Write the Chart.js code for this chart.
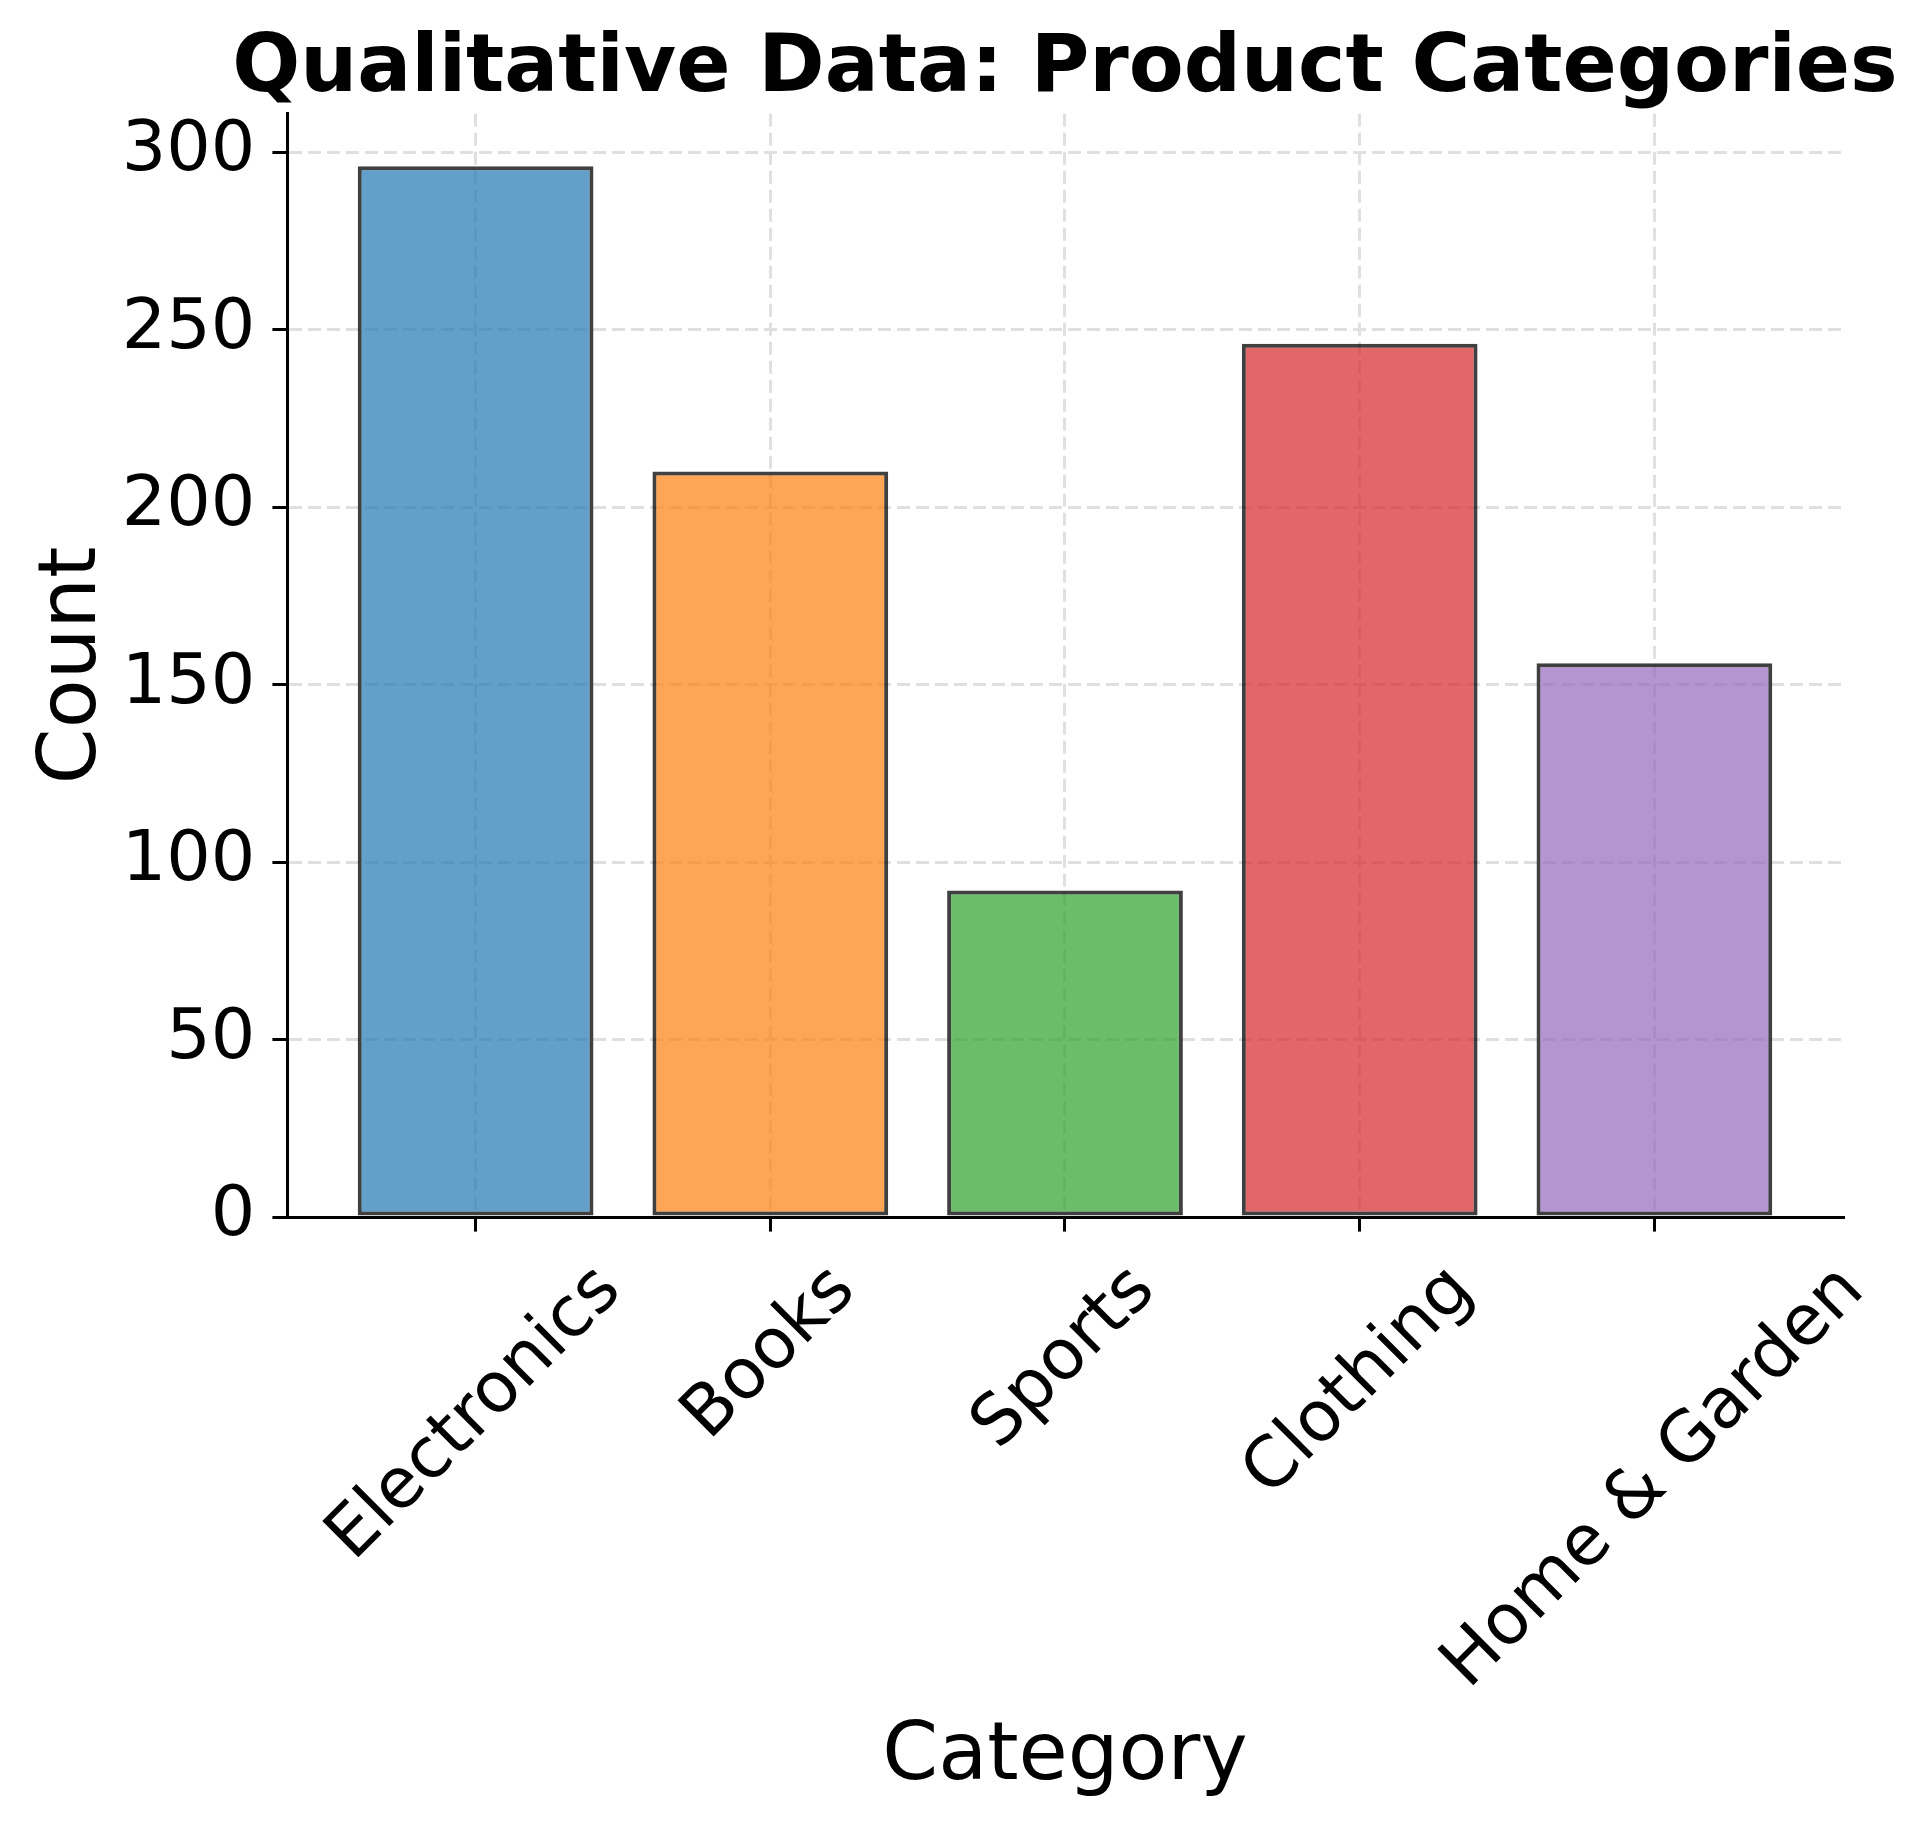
<!DOCTYPE html>
<html>
<head>
<meta charset="utf-8">
<title>Qualitative Data: Product Categories</title>
<script src="https://cdn.jsdelivr.net/npm/chart.js@4.4.1/dist/chart.umd.min.js"></script>
<style>
    html, body { margin: 0; padding: 0; background: #fff; }
    #wrap { width: 1920px; height: 1822px; }
</style>
</head>
<body>
<div id="wrap"><canvas id="chart" width="1920" height="1822"></canvas></div>
<script>
const chartTitle = 'Qualitative Data: Product Categories';
const categories = ['Electronics', 'Books', 'Sports', 'Clothing', 'Home & Garden'];
const counts = [296, 210, 92, 246, 156];
const barColors = [
    'rgba(31, 119, 180, 0.7)',
    'rgba(255, 127, 14, 0.7)',
    'rgba(44, 160, 44, 0.7)',
    'rgba(214, 39, 40, 0.7)',
    'rgba(148, 103, 189, 0.7)'
];
const yTickStep = 50;

// matplotlib style autoscale: 5% margin around the data
const xLo = -0.4, xHi = categories.length - 1 + 0.4;
const xPad = (xHi - xLo) * 0.05;
const yMax = Math.max(...counts) * 1.05;

const FONT = '"DejaVu Sans", "Liberation Sans", sans-serif';
const TICK_SIZE = 70;
const TICK_LEN = 14.6;

Chart.defaults.font.family = FONT;
Chart.defaults.color = '#000';

// title centred over the plot area (not the canvas), like matplotlib
const plotTitle = {
    id: 'plotTitle',
    afterDraw(chart) {
        const { ctx, chartArea } = chart;
        ctx.save();
        ctx.font = `bold 80px ${FONT}`;
        ctx.fillStyle = '#000';
        ctx.textAlign = 'center';
        ctx.textBaseline = 'alphabetic';
        ctx.fillText(chartTitle, (chartArea.left + chartArea.right) / 2, 91);
        ctx.restore();
    }
};

// rotated category labels, centred under each tick like matplotlib
const xLabels = {
    id: 'xLabels',
    afterDraw(chart) {
        const { ctx } = chart;
        const x = chart.scales.x;
        ctx.save();
        ctx.font = `${TICK_SIZE}px ${FONT}`;
        ctx.fillStyle = '#000';
        ctx.textAlign = 'center';
        ctx.textBaseline = 'middle';
        const top = x.top + TICK_LEN + 19;
        categories.forEach((label, i) => {
            const w = ctx.measureText(label).width;
            const side = (w + TICK_SIZE * 1.164) * Math.SQRT1_2;
            ctx.save();
            ctx.translate(x.getPixelForValue(i), top + side / 2);
            ctx.rotate(-Math.PI / 4);
            ctx.fillText(label, 0, 0);
            ctx.restore();
        });
        ctx.restore();
    }
};

const gridStyle = {
    color: '#e0e0e0',
    lineWidth: 3,
    offset: false,
    tickColor: '#000',
    tickWidth: 3,
    tickLength: TICK_LEN,
    tickBorderDash: []
};
const borderStyle = { display: true, color: '#000', width: 3, dash: [13, 6] };

new Chart(document.getElementById('chart'), {
    type: 'bar',
    data: {
        datasets: [{
            data: categories.map((c, i) => ({ x: i, y: counts[i] })),
            backgroundColor: barColors,
            borderColor: 'rgba(0, 0, 0, 0.75)',
            borderWidth: 4,
            borderSkipped: false,
            barPercentage: 0.8,
            categoryPercentage: 1.0
        }]
    },
    options: {
        responsive: false,
        animation: false,
        devicePixelRatio: 1,
        layout: { padding: { left: 0, right: 77, top: 113.7, bottom: 0 } },
        plugins: {
            legend: { display: false },
            tooltip: { enabled: false },
            title: { display: false }
        },
        scales: {
            x: {
                type: 'linear',
                min: xLo - xPad,
                max: xHi + xPad,
                offset: false,
                ticks: { display: false, stepSize: 1, includeBounds: false },
                grid: gridStyle,
                border: borderStyle,
                title: {
                    display: true,
                    text: 'Category',
                    color: '#000',
                    font: { size: 80 },
                    padding: { top: 0, bottom: 16 }
                },
                afterFit(scale) { scale.height = 605; }
            },
            y: {
                min: 0,
                max: yMax,
                ticks: {
                    stepSize: yTickStep,
                    includeBounds: false,
                    color: '#000',
                    font: { size: TICK_SIZE },
                    padding: 17
                },
                grid: gridStyle,
                border: borderStyle,
                title: {
                    display: true,
                    text: 'Count',
                    color: '#000',
                    font: { size: 80 },
                    padding: { top: 26, bottom: 0 }
                },
                afterFit(scale) { scale.width = 287; }
            }
        }
    },
    plugins: [plotTitle, xLabels]
});
</script>
</body>
</html>
